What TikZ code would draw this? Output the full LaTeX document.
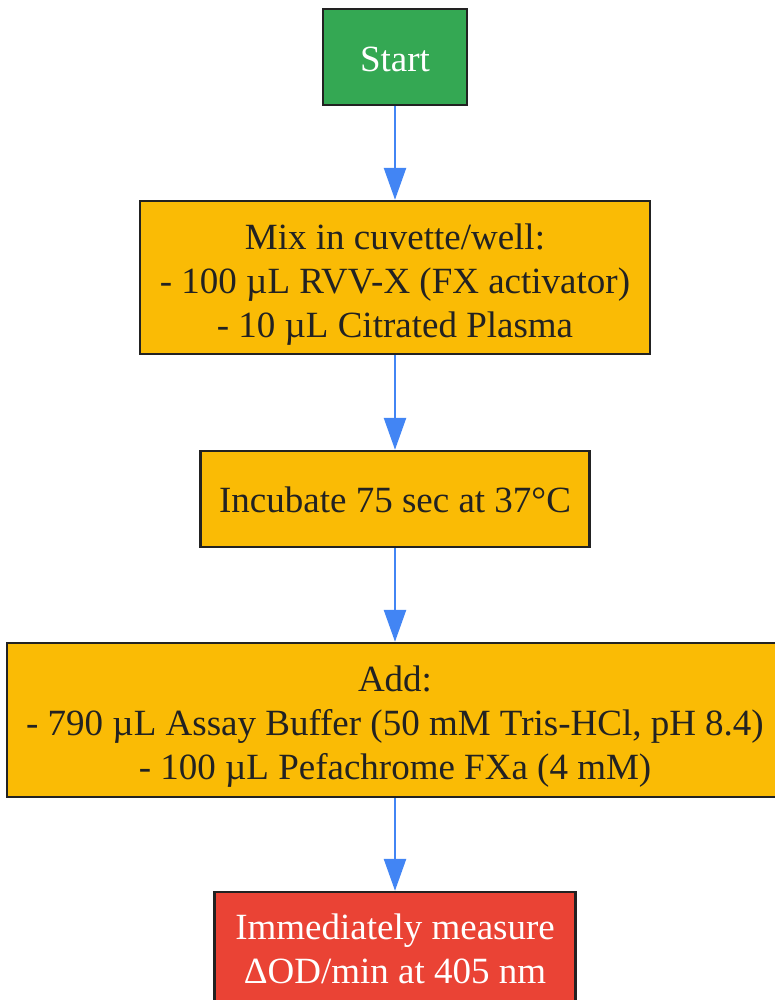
\documentclass[tikz,border=0pt]{standalone}
\usepackage{fontspec}
\setmainfont{Liberation Serif}
\usetikzlibrary{arrows.meta}
\definecolor{gfill}{HTML}{34A853}
\definecolor{ofill}{HTML}{FABB05}
\definecolor{rfill}{HTML}{EA4335}
\definecolor{edge}{HTML}{4285F4}
\definecolor{bord}{HTML}{222222}
\newcommand{\upstrut}[1]{\rule{0pt}{#1}}
\begin{document}
\begin{tikzpicture}[x=1pt,y=-1pt,
  box/.style={draw=bord,line width=2.4pt,inner sep=0pt,align=center,
    font=\fontsize{37}{44}\selectfont},
  flow/.style={draw=edge,line width=2.6pt,-{Triangle[length=32pt,width=22pt]}}]
\useasboundingbox (0,0) rectangle (775,1000);
\node[box,fill=gfill,text=white,minimum width=144pt,minimum height=96pt] (start) at (395,57) {\upstrut{29pt}Start};
\node[box,fill=ofill,text=bord,minimum width=510pt,minimum height=153pt] (mix) at (395,277.5) {\upstrut{40pt}Mix in cuvette/well:\\- 100 µL RVV-X (FX activator)\\- 10 µL Citrated Plasma};
\node[box,fill=ofill,text=bord,minimum width=389pt,minimum height=96pt] (inc) at (395,499) {\upstrut{27pt}Incubate 75 sec at 37°C};
\node[box,fill=ofill,text=bord,minimum width=776pt,minimum height=154pt] (add) at (395,720) {\upstrut{38pt}Add:\\- 790 µL Assay Buffer (50 mM Tris-HCl, pH 8.4)\\- 100 µL Pefachrome FXa (4 mM)};
\node[box,fill=rfill,text=white,minimum width=361pt,minimum height=113pt] (meas) at (395,948.5) {Immediately measure\\ΔOD/min at 405 nm};
\draw[flow] (start.south) -- (mix.north);
\draw[flow] (mix.south) -- (inc.north);
\draw[flow] (inc.south) -- (add.north);
\draw[flow] (add.south) -- (meas.north);
\end{tikzpicture}
\end{document}
